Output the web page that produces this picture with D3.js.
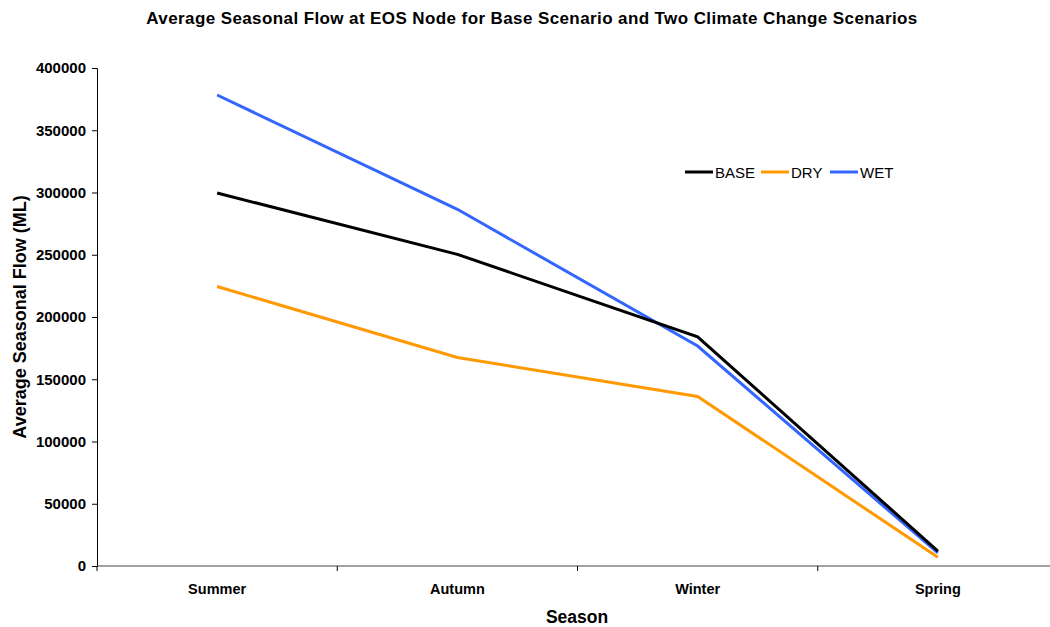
<!DOCTYPE html>
<html>
<head>
<meta charset="utf-8">
<script src="https://cdn.jsdelivr.net/npm/d3@7"></script>
<style>
  body { margin: 0; background: #fff; }
  text { font-family: "Liberation Sans", Arial, sans-serif; }
</style>
</head>
<body>
<div id="chart"></div>
<script>
// data
const seasons = ["Summer", "Autumn", "Winter", "Spring"];
const baseFlow = [299600, 250300, 184000, 12000];
const dryFlow = [224500, 167500, 136200, 7000];
const wetFlow = [378300, 286500, 176700, 10500];
const seriesNames = ["BASE", "DRY", "WET"];
const seriesColors = ["#000000", "#ff9900", "#3366ff"];
const yTicks = [0, 50000, 100000, 150000, 200000, 250000, 300000, 350000, 400000];

const W = 1050, H = 627;
const margin = {top: 68, left: 97, right: -8, bottom: 61};

const svg = d3.select("#chart").append("svg")
  .attr("width", W).attr("height", H);

const x = d3.scaleBand().domain(seasons).range([margin.left, W - margin.right]);
const y = d3.scaleLinear().domain([0, 400000]).range([H - margin.bottom, margin.top]);

// title
svg.append("text")
  .attr("x", 532).attr("y", 24)
  .attr("text-anchor", "middle")
  .style("font-size", "17px").style("font-weight", "bold")
  .style("letter-spacing", "0.4px")
  .text("Average Seasonal Flow at EOS Node for Base Scenario and Two Climate Change Scenarios");

// y axis
const yAxis = svg.append("g")
  .attr("transform", "translate(" + margin.left + ",0)")
  .call(d3.axisLeft(y).tickValues(yTicks).tickSize(5).tickPadding(6).tickFormat(d3.format("d")));
yAxis.selectAll("text").style("font-size", "15px").style("font-weight", "bold").attr("fill", "#000");
yAxis.select(".domain").attr("stroke", "#000");

// x axis, ticks on the band edges
const edges = seasons.map(s => x(s)).concat([x.range()[1]]);
const xg = svg.append("g").attr("transform", "translate(0," + y(0) + ")");
xg.append("line")
  .attr("x1", x.range()[0]).attr("x2", x.range()[1])
  .attr("stroke", "#444").attr("stroke-width", 1.2);
xg.selectAll("line.tk").data(edges).enter().append("line")
  .attr("class", "tk")
  .attr("x1", d => d).attr("x2", d => d)
  .attr("y1", 0).attr("y2", 5)
  .attr("stroke", "#000");
xg.selectAll("text").data(seasons).enter().append("text")
  .attr("x", d => x(d) + x.bandwidth() / 2)
  .attr("y", 28)
  .attr("text-anchor", "middle")
  .style("font-size", "14.5px").style("font-weight", "bold")
  .text(d => d);

// axis titles
svg.append("text")
  .attr("x", 577).attr("y", 623)
  .attr("text-anchor", "middle")
  .style("font-size", "17.5px").style("font-weight", "bold")
  .text("Season");
svg.append("text")
  .attr("transform", "translate(26," + 317 + ") rotate(-90)")
  .attr("text-anchor", "middle")
  .style("font-size", "18px").style("font-weight", "bold")
  .text("Average Seasonal Flow (ML)");

// lines
const allSeries = [baseFlow, dryFlow, wetFlow];
const line = d3.line()
  .x((d, i) => x(seasons[i]) + x.bandwidth() / 2)
  .y(d => y(d));
[2, 1, 0].forEach(k => {
  svg.append("path")
    .datum(allSeries[k])
    .attr("fill", "none")
    .attr("stroke", seriesColors[k])
    .attr("stroke-width", 3)
    .attr("d", line);
});

// legend
const legendX = [685, 761, 830];
const lg = svg.append("g").attr("transform", "translate(0,172)");
seriesNames.forEach((n, i) => {
  lg.append("line")
    .attr("x1", legendX[i]).attr("x2", legendX[i] + 28)
    .attr("stroke", seriesColors[i]).attr("stroke-width", 3);
  lg.append("text")
    .attr("x", legendX[i] + 30).attr("y", 5.5)
    .style("font-size", "15px")
    .text(n);
});
</script>
</body>
</html>
